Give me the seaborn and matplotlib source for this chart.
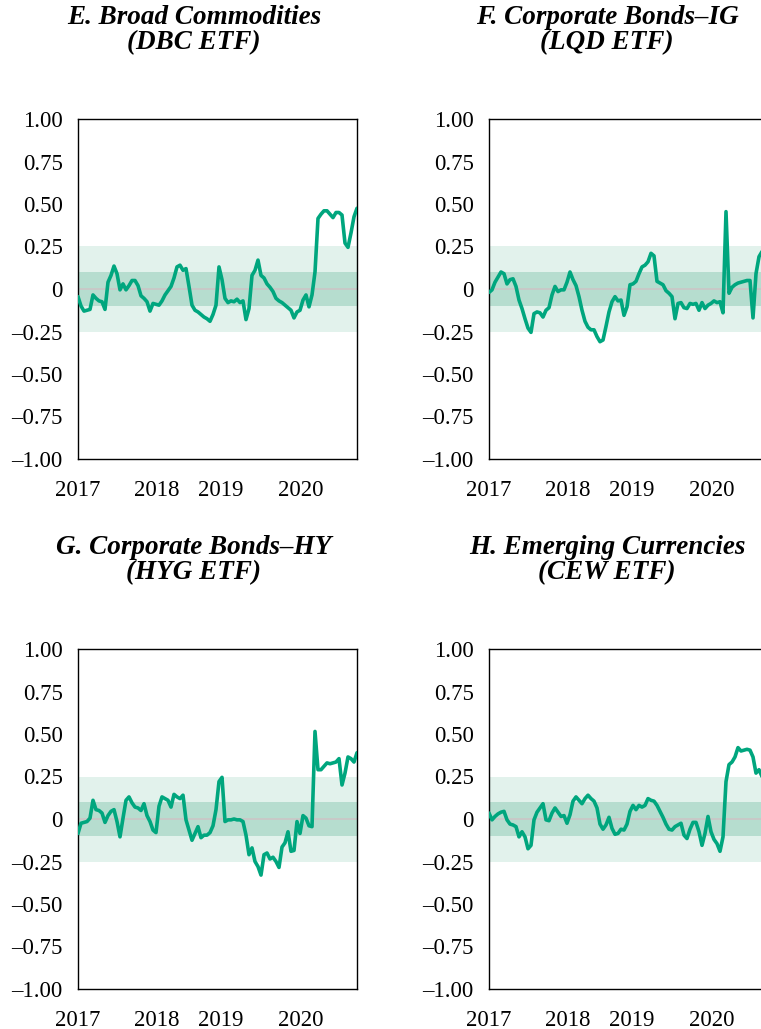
import matplotlib
matplotlib.use('Agg')
import matplotlib.pyplot as plt
import numpy as np
import pandas as pd
import seaborn as sns

# Rolling correlation readings, one sample every ~1/93 of the window (2017 to late 2020)
dbc = [-0.045, -0.10, -0.13, -0.125, -0.12, -0.035, -0.055, -0.07, -0.075, -0.12,
       0.04, 0.08, 0.135, 0.09, -0.005, 0.03, -0.005, 0.02, 0.05, 0.05,
       0.02, -0.04, -0.055, -0.075, -0.13, -0.085, -0.09, -0.095, -0.07, -0.035,
       -0.01, 0.015, 0.065, 0.13, 0.14, 0.11, 0.12, 0.015, -0.095, -0.125,
       -0.135, -0.15, -0.165, -0.175, -0.19, -0.15, -0.095, 0.13, 0.055, -0.055,
       -0.08, -0.07, -0.075, -0.06, -0.08, -0.07, -0.18, -0.115, 0.08, 0.11,
       0.17, 0.08, 0.065, 0.03, 0.01, -0.015, -0.055, -0.07, -0.08, -0.095,
       -0.11, -0.125, -0.17, -0.135, -0.125, -0.065, -0.035, -0.105, -0.035, 0.10,
       0.415, 0.44, 0.46, 0.46, 0.44, 0.42, 0.45, 0.45, 0.435, 0.27,
       0.245, 0.33, 0.425, 0.475]
lqd = [-0.02, -0.005, 0.04, 0.07, 0.10, 0.09, 0.03, 0.055, 0.06, 0.015,
       -0.065, -0.115, -0.175, -0.23, -0.255, -0.145, -0.135, -0.14, -0.165, -0.125,
       -0.11, -0.035, 0.015, -0.015, -0.005, -0.005, 0.04, 0.10, 0.055, 0.02,
       -0.045, -0.125, -0.19, -0.225, -0.24, -0.24, -0.28, -0.31, -0.30, -0.22,
       -0.135, -0.075, -0.045, -0.07, -0.065, -0.155, -0.105, 0.025, 0.03, 0.045,
       0.09, 0.13, 0.14, 0.16, 0.21, 0.195, 0.045, 0.035, 0.025, -0.01,
       -0.025, -0.045, -0.175, -0.085, -0.08, -0.11, -0.115, -0.085, -0.09, -0.085,
       -0.125, -0.08, -0.115, -0.095, -0.085, -0.07, -0.08, -0.075, -0.14, 0.455,
       -0.025, 0.01, 0.025, 0.035, 0.04, 0.045, 0.05, 0.05, -0.17, 0.09,
       0.19, 0.22, 0.22, 0.23]
hyg = [-0.085, -0.025, -0.02, -0.015, 0.005, 0.11, 0.055, 0.05, 0.035, -0.02,
       0.02, 0.045, 0.055, -0.015, -0.105, 0.005, 0.11, 0.13, 0.095, 0.07,
       0.065, 0.05, 0.09, 0.02, -0.015, -0.065, -0.08, 0.075, 0.13, 0.12,
       0.11, 0.07, 0.145, 0.13, 0.12, 0.14, -0.005, -0.065, -0.125, -0.085,
       -0.045, -0.11, -0.095, -0.095, -0.08, -0.04, 0.055, 0.22, 0.245, -0.015,
       -0.005, -0.005, 0.0, -0.005, -0.005, -0.015, -0.095, -0.21, -0.17, -0.25,
       -0.28, -0.33, -0.21, -0.20, -0.235, -0.225, -0.25, -0.285, -0.165, -0.14,
       -0.075, -0.19, -0.185, -0.015, -0.085, 0.02, 0.005, -0.04, -0.045, 0.515,
       0.29, 0.29, 0.31, 0.33, 0.325, 0.33, 0.335, 0.355, 0.20, 0.27,
       0.365, 0.355, 0.335, 0.39]
cew = [0.035, -0.005, 0.015, 0.03, 0.04, 0.045, -0.005, -0.03, -0.035, -0.045,
       -0.105, -0.075, -0.105, -0.175, -0.155, -0.005, 0.04, 0.065, 0.09, -0.005,
       -0.01, 0.035, 0.065, 0.04, 0.015, 0.02, -0.025, 0.025, 0.105, 0.13,
       0.11, 0.09, 0.12, 0.14, 0.12, 0.105, 0.065, -0.03, -0.06, -0.035,
       0.01, -0.055, -0.09, -0.085, -0.06, -0.065, -0.03, 0.045, 0.08, 0.055,
       0.08, 0.07, 0.08, 0.12, 0.11, 0.105, 0.08, 0.045, 0.01, -0.03,
       -0.06, -0.065, -0.045, -0.035, -0.025, -0.095, -0.115, -0.06, -0.02, -0.02,
       -0.075, -0.155, -0.085, 0.015, -0.075, -0.12, -0.145, -0.19, -0.105, 0.22,
       0.32, 0.335, 0.365, 0.42, 0.40, 0.405, 0.41, 0.405, 0.365, 0.27,
       0.29, 0.25, 0.25, 0.24]

titles = ['E. Broad Commodities\n(DBC ETF)', 'F. Corporate Bonds\u2013IG\n(LQD ETF)',
          'G. Corporate Bonds\u2013HY\n(HYG ETF)', 'H. Emerging Currencies\n(CEW ETF)']
series = [dbc, lqd, hyg, cew]

year_labels = ['2017', '2018', '2019', '2020']
year_pos = [0, 26.33, 47.67, 74.33]   # sample index where each year label sits
y_ticks = [1.0, 0.75, 0.5, 0.25, 0, -0.25, -0.5, -0.75, -1.0]
y_labels = ['1.00', '0.75', '0.50', '0.25', '0',
            '\u20130.25', '\u20130.50', '\u20130.75', '\u20131.00']

frames = []
for t, s in zip(titles, series):
    frames.append(pd.DataFrame({'x': np.arange(len(s)), 'value': s, 'panel': t}))
df = pd.concat(frames, ignore_index=True)

sns.set_theme(style='white')
plt.rcParams['font.family'] = ['Liberation Serif', 'DejaVu Serif']

line_col = '#00a67e'
fig = plt.figure(figsize=(7.61, 10.29), dpi=100)

W, H = 761, 1029
boxes = [(78, 119), (489, 119), (78, 649), (489, 649)]
centers = [194, 607]

for k, (t, (x0, y0)) in enumerate(zip(titles, boxes)):
    ax = fig.add_axes([x0 / W, 1 - (y0 + 340) / H, 279 / W, 340 / H])
    ax.axhspan(-0.25, 0.25, color='#e2f2ec', lw=0, zorder=0)
    ax.axhspan(-0.10, 0.10, color='#b6ddcf', lw=0, zorder=0)
    ax.axhline(0, color='#cbc6c6', lw=1.2, zorder=1)
    sns.lineplot(data=df[df['panel'] == t], x='x', y='value', ax=ax,
                 color=line_col, lw=2.6, zorder=3)
    ax.set_xlim(0, 93)
    ax.set_ylim(-1, 1)
    ax.set_xticks(year_pos)
    ax.set_xticklabels(year_labels)
    ax.set_yticks(y_ticks)
    ax.set_yticklabels(y_labels)
    ax.set_xlabel('')
    ax.set_ylabel('')
    ax.tick_params(axis='both', direction='in', length=5.5, width=1, color='black',
                   labelsize=16.5, labelcolor='black')
    ax.tick_params(axis='y', pad=11)
    ax.tick_params(axis='x', pad=15)
    for sp in ax.spines.values():
        sp.set_color('black')
        sp.set_linewidth(1.0)
    cx = centers[k % 2]
    ty = y0 - 119 + 30
    fig.text(cx / W, 1 - ty / H, t, ha='center', va='center', color='black',
             fontsize=19.5, fontweight='bold', fontstyle='italic', linespacing=1.0)

fig.savefig('out.png', dpi=100)
